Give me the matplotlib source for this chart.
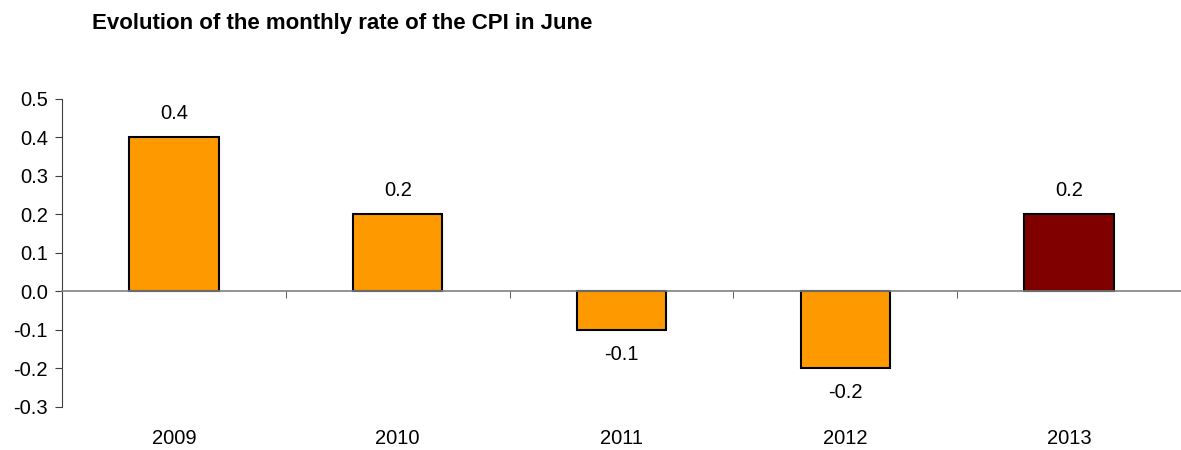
import numpy as np
import matplotlib.pyplot as plt

plt.rcParams['font.family'] = ['Liberation Sans', 'DejaVu Sans']

# Data
years = ['2009', '2010', '2011', '2012', '2013']
values = [0.4, 0.2, -0.1, -0.2, 0.2]
colors = ['#FF9900', '#FF9900', '#FF9900', '#FF9900', '#800000']

fig = plt.figure(figsize=(11.81, 4.5), dpi=100)
ax = fig.add_axes([0.0525, 0.0956, 0.9475, 0.6844])

x = np.arange(len(years))
bars = ax.bar(x, values, width=0.4, color=colors, edgecolor='black', linewidth=1.5, zorder=3)

ax.set_xlim(-0.5, len(years) - 0.5)
ax.set_ylim(-0.3, 0.5)
ax.set_yticks(np.arange(-0.3, 0.51, 0.1))
ax.yaxis.set_major_formatter(plt.FormatStrFormatter('%.1f'))

# Spines: zero line as x-axis
for s in ['top', 'right']:
    ax.spines[s].set_visible(False)
ax.spines['bottom'].set_position(('data', 0))
ax.spines['bottom'].set_color('#808080')
ax.spines['bottom'].set_linewidth(1.2)
ax.spines['bottom'].set_zorder(4)
ax.spines['left'].set_color('#404040')

ax.set_xticks(x)
ax.set_xticklabels(years)
ax.set_xticks(np.arange(0.5, len(years) - 0.5, 1), minor=True)
ax.tick_params(axis='x', which='major', length=0, pad=99, labelsize=14.5)
ax.tick_params(axis='x', which='minor', length=5, direction='out', color='#404040')
ax.tick_params(axis='y', length=5, direction='out', labelsize=14.5, color='#404040', pad=5)

# Value labels
for xi, v in zip(x, values):
    if v >= 0:
        ax.text(xi, v + 0.038, f'{v:.1f}', ha='center', va='bottom', fontsize=14.5)
    else:
        ax.text(xi, v - 0.038, f'{v:.1f}', ha='center', va='top', fontsize=14.5)

fig.text(92 / 1181, 1 - 24 / 450, 'Evolution of the monthly rate of the CPI in June',
         fontsize=16, fontweight='bold', ha='left', va='center')

fig.savefig('out.png', dpi=100)
